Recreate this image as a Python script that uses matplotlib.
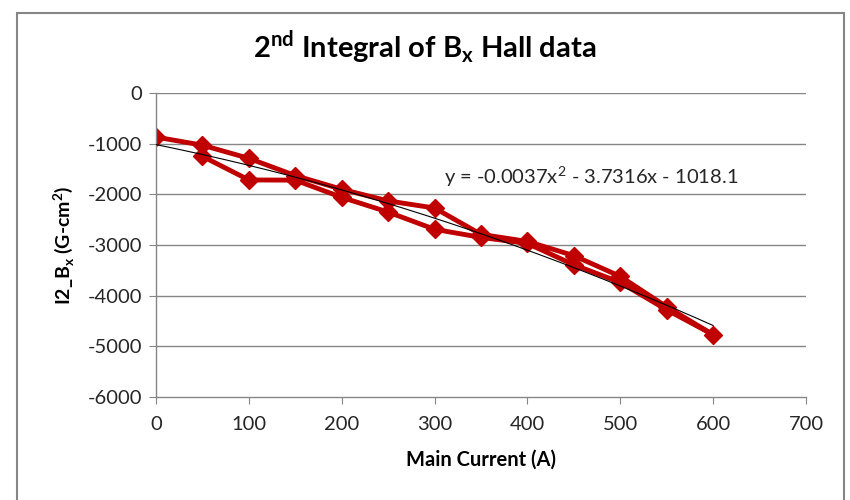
import numpy as np
import matplotlib.pyplot as plt
from matplotlib.patches import Rectangle

plt.rcParams['font.family'] = ['Lato', 'DejaVu Sans']
plt.rcParams['mathtext.fontset'] = 'custom'
plt.rcParams['mathtext.rm'] = 'Lato'
plt.rcParams['mathtext.bf'] = 'Lato:bold'
plt.rcParams['axes.unicode_minus'] = False

# main current, ramp up then ramp down (A)
current = [0, 50, 100, 150, 200, 250, 300, 350, 400, 450, 500, 550, 600,
           550, 500, 450, 400, 350, 300, 250, 200, 150, 100, 50]
# second integral of Bx (G-cm^2)
i2_bx = [-870, -1030, -1290, -1630, -1900, -2130, -2270, -2790, -2930, -3210, -3620, -4220, -4770,
         -4280, -3740, -3390, -2970, -2850, -2690, -2350, -2060, -1720, -1716, -1250]

# polynomial trendline coefficients (x^2, x, 1)
trend_coef = [-0.0037, -3.7316, -1018.1]
trend_x = [0, 600]

x_ticks = [0, 100, 200, 300, 400, 500, 600, 700]
y_ticks = [0, -1000, -2000, -3000, -4000, -5000, -6000]

fig = plt.figure(figsize=(8.5, 5), dpi=100)
fig.patches.append(Rectangle((17 / 850, -0.1), 827 / 850, 1.1 - 13 / 500,
                             transform=fig.transFigure, fill=False,
                             edgecolor='#868686', linewidth=1.5))

ax = fig.add_axes([156 / 850, 103 / 500, 650 / 850, 304 / 500])

grey = '#868686'
for y in y_ticks[:-1]:
    ax.axhline(y, color=grey, linewidth=1.0, zorder=0)

tx = np.linspace(trend_x[0], trend_x[1], 200)
ax.plot(tx, np.polyval(trend_coef, tx), color='black', linewidth=0.8, zorder=3)

ax.plot(current, i2_bx, color='#C00000', linewidth=3.5, marker='D',
        markersize=9.5, markeredgecolor='#C00000', zorder=2)

ax.set_xlim(0, 700)
ax.set_ylim(-6000, 0)
ax.set_xticks(x_ticks)
ax.set_yticks(y_ticks)

for side in ['top', 'right']:
    ax.spines[side].set_visible(False)
for side in ['left', 'bottom']:
    ax.spines[side].set_color(grey)
    ax.spines[side].set_linewidth(1.0)
ax.tick_params(direction='out', length=5, color=grey, labelsize=14.5,
               labelcolor='#262626')
ax.tick_params(axis='x', pad=9)
ax.tick_params(axis='y', pad=5)

ax.set_xlabel('Main Current (A)', fontsize=14.5, fontweight='bold', labelpad=12)
ax.set_ylabel(r'I2_B$_{\mathbf{x}}$ (G-cm$^{\mathbf{2}}$)', fontsize=14,
              fontweight='bold', labelpad=8)

fig.text(0.5, 1 - 47 / 500, r'2$^{\mathbf{nd}}$ Integral of B$_{\mathbf{x}}$ Hall data',
         ha='center', va='center', fontsize=21, fontweight='bold')

eq = r'y = -%.4fx$^{\mathregular{2}}$ - %.4fx - %.1f' % (-trend_coef[0], -trend_coef[1], -trend_coef[2])
ax.text(310, -1640, eq, fontsize=14.5, ha='left', va='center', color='#262626')

fig.savefig('out.png', dpi=100, facecolor='white')
